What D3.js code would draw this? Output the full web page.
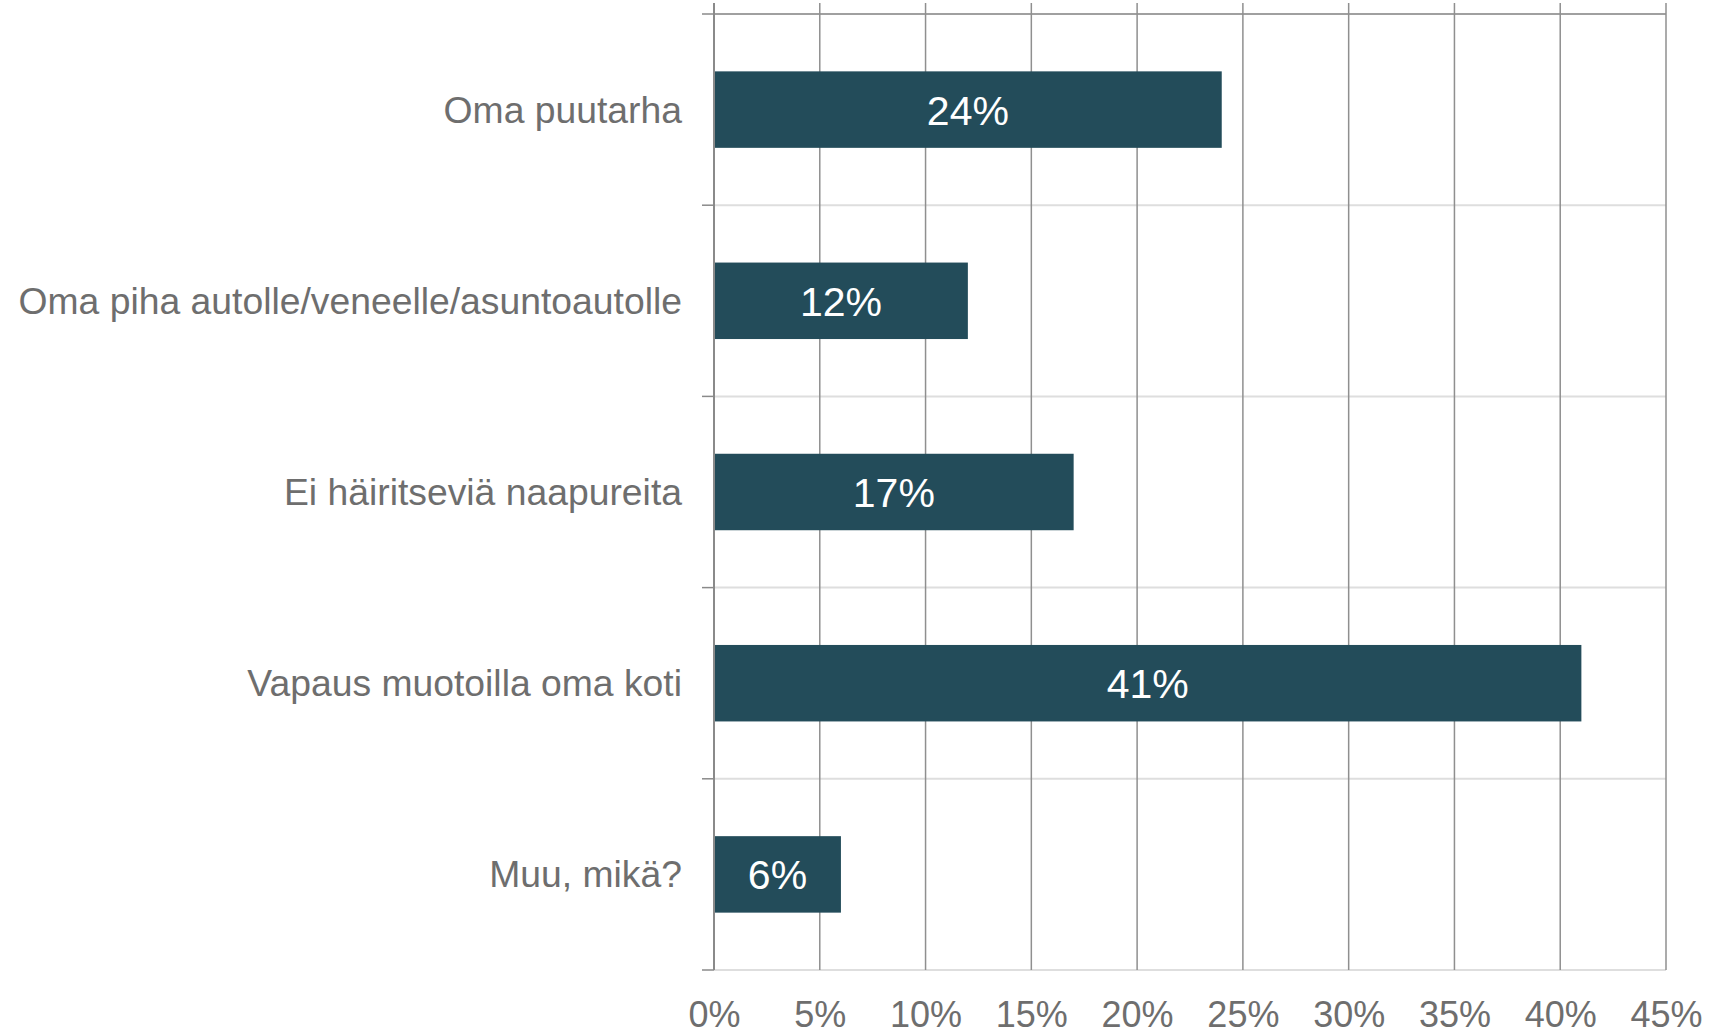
<!DOCTYPE html>
<html>
<head>
<meta charset="utf-8">
<script src="https://cdn.jsdelivr.net/npm/d3@7"></script>
<style>
  body { margin: 0; background: #fff; }
  text { font-family: 'Liberation Sans', Arial, sans-serif; }
</style>
</head>
<body>
<div id="chart"></div>
<script>
let categories = [
  'Oma puutarha',
  'Oma piha autolle/veneelle/asuntoautolle',
  'Ei häiritseviä naapureita',
  'Vapaus muotoilla oma koti',
  'Muu, mikä?'
]
let values = [24, 12, 17, 41, 6]
let xTicks = [0, 5, 10, 15, 20, 25, 30, 35, 40, 45]

let margin = { top: 14, left: 714, right: 43, bottom: 65 }
let width = 1709 - margin.left - margin.right
let height = 1035 - margin.top - margin.bottom

let svg = d3
  .select('#chart')
  .append('svg')
  .attr('width', 1709)
  .attr('height', 1035)
  .append('g')
  .attr('transform', 'translate(' + margin.left + ',' + margin.top + ')')

let xPositionScale = d3.scaleLinear().domain([0, 45]).range([0, width])
let yPositionScale = d3
  .scaleBand()
  .domain(categories)
  .range([0, height])
  .paddingInner(0.6)
  .paddingOuter(0.3)

let step = yPositionScale.step()
let boundaries = d3.range(categories.length + 1).map(i => i * step)

// horizontal lines between categories
svg
  .selectAll('.hline')
  .data(boundaries)
  .enter()
  .append('line')
  .attr('class', 'hline')
  .attr('x1', 0)
  .attr('x2', width)
  .attr('y1', d => d)
  .attr('y2', d => d)
  .attr('stroke', (d, i) => (i === 0 ? '#a0a0a0' : '#dedede'))
  .attr('stroke-width', 2)

// vertical gridlines
svg
  .selectAll('.vline')
  .data(xTicks.slice(1))
  .enter()
  .append('line')
  .attr('class', 'vline')
  .attr('x1', d => xPositionScale(d))
  .attr('x2', d => xPositionScale(d))
  .attr('y1', -11)
  .attr('y2', height)
  .attr('stroke', '#8f8f8f')
  .attr('stroke-width', 1.5)

// bars
svg
  .selectAll('.bar')
  .data(values)
  .enter()
  .append('rect')
  .attr('class', 'bar')
  .attr('x', 0)
  .attr('y', (d, i) => yPositionScale(categories[i]))
  .attr('width', d => xPositionScale(d))
  .attr('height', yPositionScale.bandwidth())
  .attr('fill', '#234c5a')

// left axis line and ticks
svg
  .append('line')
  .attr('x1', 0)
  .attr('x2', 0)
  .attr('y1', -11)
  .attr('y2', height)
  .attr('stroke', '#8a8a8a')
  .attr('stroke-width', 2)

svg
  .selectAll('.ytick')
  .data(boundaries)
  .enter()
  .append('line')
  .attr('class', 'ytick')
  .attr('x1', -12)
  .attr('x2', 0)
  .attr('y1', d => d)
  .attr('y2', d => d)
  .attr('stroke', '#8a8a8a')
  .attr('stroke-width', 1.5)

// bar labels
svg
  .selectAll('.value')
  .data(values)
  .enter()
  .append('text')
  .attr('class', 'value')
  .attr('x', d => xPositionScale(d) / 2)
  .attr('y', (d, i) => yPositionScale(categories[i]) + yPositionScale.bandwidth() / 2)
  .attr('dy', 15)
  .attr('text-anchor', 'middle')
  .attr('fill', '#fff')
  .attr('font-size', 41)
  .text(d => d + '%')

// category labels
svg
  .selectAll('.cat')
  .data(categories)
  .enter()
  .append('text')
  .attr('class', 'cat')
  .attr('x', -32)
  .attr('y', d => yPositionScale(d) + yPositionScale.bandwidth() / 2)
  .attr('dy', 13)
  .attr('text-anchor', 'end')
  .attr('fill', '#6e6e6e')
  .attr('font-size', 37.3)
  .text(d => d)

// x axis labels
let xAxis = d3
  .axisBottom(xPositionScale)
  .tickValues(xTicks)
  .tickSize(0)
  .tickFormat(d => d + '%')

svg
  .append('g')
  .attr('transform', 'translate(0,' + height + ')')
  .call(xAxis)
  .call(g => g.select('.domain').remove())
  .selectAll('text')
  .attr('y', 57)
  .attr('dy', 0)
  .attr('fill', '#6e6e6e')
  .attr('font-size', 36)
  .attr('font-family', "'Liberation Sans', Arial, sans-serif")
</script>
</body>
</html>
